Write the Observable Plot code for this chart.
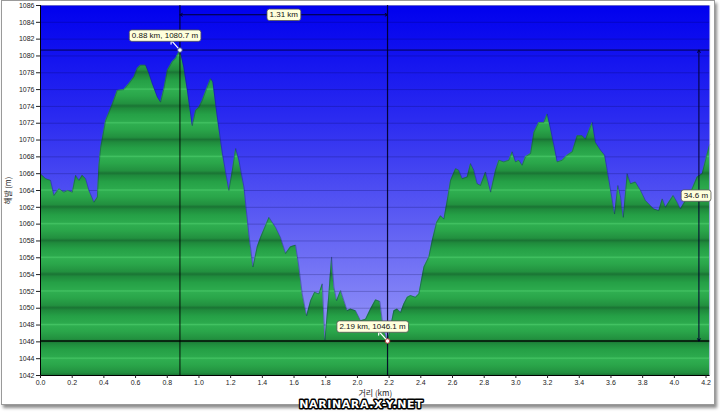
<!DOCTYPE html>
<html><head><meta charset="utf-8">
<script src="https://cdn.jsdelivr.net/npm/d3@7"></script>
<script src="https://cdn.jsdelivr.net/npm/@observablehq/plot@0.6"></script>
<style>
body{margin:0;background:#fff;}
#wrap{position:relative;width:720px;height:412px;}
#border{position:absolute;left:1px;top:0;width:712px;height:403px;border:1px solid #9a9a9a;box-shadow:2px 3px 3px rgba(0,0,0,0.45);background:#fff;}
#chart{position:absolute;left:0;top:0;}
</style></head><body>
<div id="wrap"><div id="border"></div><div id="chart"></div></div>
<script>
// ---- data ----
const distanceKm = [0, 0.033, 0.064, 0.085, 0.117, 0.148, 0.172, 0.201, 0.222, 0.243,
  0.264, 0.285, 0.306, 0.338, 0.359, 0.369, 0.380, 0.411, 0.454, 0.485,
  0.527, 0.558, 0.590, 0.611, 0.632, 0.664, 0.685, 0.706, 0.738, 0.758,
  0.779, 0.801, 0.832, 0.853, 0.880, 0.905, 0.927, 0.958, 0.979, 1.000,
  1.021, 1.053, 1.074, 1.088, 1.116, 1.148, 1.189, 1.211, 1.232, 1.252,
  1.284, 1.315, 1.341, 1.368, 1.389, 1.442, 1.484, 1.515, 1.547, 1.578,
  1.610, 1.631, 1.652, 1.680, 1.705, 1.730, 1.757, 1.779, 1.789, 1.795,
  1.806, 1.820, 1.837, 1.852, 1.869, 1.894, 1.915, 1.936, 1.957, 1.989,
  2.020, 2.052, 2.083, 2.115, 2.142, 2.157, 2.175, 2.190, 2.209, 2.230,
  2.252, 2.273, 2.293, 2.315, 2.336, 2.367, 2.388, 2.420, 2.451, 2.473,
  2.500, 2.525, 2.546, 2.567, 2.588, 2.620, 2.640, 2.662, 2.693, 2.714,
  2.735, 2.756, 2.777, 2.809, 2.841, 2.872, 2.893, 2.924, 2.956, 2.977,
  2.998, 3.019, 3.040, 3.061, 3.093, 3.114, 3.145, 3.177, 3.198, 3.219,
  3.239, 3.261, 3.293, 3.324, 3.356, 3.387, 3.419, 3.440, 3.482, 3.503,
  3.534, 3.560, 3.577, 3.598, 3.623, 3.644, 3.661, 3.678, 3.703, 3.724,
  3.755, 3.787, 3.818, 3.839, 3.871, 3.902, 3.924, 3.945, 3.965, 3.993,
  4.018, 4.039, 4.071, 4.113, 4.144, 4.176, 4.208, 4.224];
const elevationM = [1066.0, 1065.4, 1065.2, 1063.4, 1064.2, 1063.8, 1064.0, 1063.8, 1065.8, 1065.2,
  1065.8, 1065.4, 1064.0, 1062.6, 1063.2, 1067.0, 1069.1, 1072.3, 1074.3, 1075.9,
  1076.0, 1076.7, 1077.5, 1078.5, 1078.9, 1078.9, 1077.9, 1076.7, 1075.1, 1074.5,
  1076.1, 1078.3, 1079.3, 1079.7, 1080.7, 1078.6, 1075.9, 1071.7, 1073.5, 1073.9,
  1074.7, 1076.3, 1077.3, 1076.9, 1072.7, 1068.4, 1064.0, 1066.4, 1069.0, 1067.6,
  1064.4, 1058.8, 1054.9, 1057.3, 1058.4, 1060.8, 1059.6, 1058.4, 1056.5, 1057.3,
  1057.5, 1054.9, 1051.7, 1049.1, 1050.9, 1051.9, 1051.7, 1052.9, 1048.5, 1046.2,
  1048.5, 1051.7, 1056.1, 1052.5, 1050.9, 1052.1, 1050.9, 1049.7, 1049.9, 1049.7,
  1048.5, 1048.7, 1049.9, 1051.0, 1050.8, 1048.5, 1047.0, 1046.1, 1047.7, 1049.7,
  1049.9, 1049.5, 1050.5, 1051.3, 1051.5, 1051.3, 1051.7, 1054.9, 1056.1, 1058.1,
  1060.2, 1061.0, 1060.6, 1062.8, 1065.2, 1066.6, 1066.4, 1065.4, 1065.6, 1067.2,
  1066.4, 1064.8, 1064.6, 1066.2, 1063.8, 1066.4, 1067.6, 1067.4, 1067.6, 1068.6,
  1067.4, 1067.6, 1067.0, 1068.0, 1068.4, 1070.9, 1072.1, 1072.1, 1073.1, 1071.3,
  1069.5, 1067.4, 1067.6, 1068.2, 1068.6, 1070.5, 1070.5, 1070.1, 1072.1, 1069.7,
  1068.8, 1068.2, 1066.4, 1064.0, 1061.2, 1064.6, 1063.2, 1060.8, 1066.0, 1064.8,
  1065.0, 1064.0, 1062.8, 1062.4, 1061.8, 1061.6, 1063.0, 1062.0, 1062.6, 1063.4,
  1062.6, 1061.8, 1062.8, 1064.2, 1065.6, 1066.0, 1068.4, 1069.5];
const xTicks = [0, 0.2, 0.4, 0.6, 0.8, 1.0, 1.2, 1.4, 1.6, 1.8, 2.0, 2.2, 2.4, 2.6, 2.8, 3.0, 3.2, 3.4, 3.6, 3.8, 4.0, 4.2];
const yTicks = [1042, 1044, 1046, 1048, 1050, 1052, 1054, 1056, 1058, 1060, 1062, 1064, 1066, 1068, 1070, 1072, 1074, 1076, 1078, 1080, 1082, 1084, 1086];
const xDomain = [0, 4.225];
const yDomain = [1042, 1086];
const markers = [{km: 0.88, m: 1080.7}, {km: 2.19, m: 1046.1}];
const distanceLabel = "1.31 km";
const heightLabel = "34.6 m";
const distanceArrowY = 1084.9;   // elevation where the horizontal dimension arrow runs
const heightArrowX = 4.155;      // distance where the vertical dimension arrow runs
const xLabel = "거리 (km)";
const yLabel = "해발 (m)";
const watermark = "NARINARA.X-Y.NET";

const profile = distanceKm.map((k, i) => ({km: k, m: elevationM[i]}));
const [peak, low] = markers;
const midKm = (peak.km + low.km) / 2;
const midM = (peak.m + low.m) / 2;
const markerText = d => `${d.km} km, ${d.m} m`;
const boxedLabels = new Set([...markers.map(markerText), distanceLabel, heightLabel]);

const plot = Plot.plot({
  width: 720, height: 412,
  marginLeft: 40, marginRight: 10.5, marginTop: 5, marginBottom: 37,
  style: {background: "transparent", fontFamily: "'Liberation Sans', Arial, sans-serif", fontSize: "7px", color: "#222", overflow: "visible"},
  x: {domain: xDomain},
  y: {domain: yDomain},
  marks: [
    Plot.frame({fill: "url(#bgGrad)", stroke: "none"}),
    Plot.ruleY(yTicks, {stroke: "#000040", strokeOpacity: 0.22}),
    Plot.areaY(profile, {x: "km", y1: yDomain[0], y2: "m", fill: "url(#greenBand)"}),
    Plot.line(profile, {x: "km", y: "m", stroke: "#102060", strokeOpacity: 0.45, strokeWidth: 0.8}),
    Plot.ruleY([peak.m], {stroke: "#000030", strokeOpacity: 0.85}),
    Plot.ruleY([low.m], {stroke: "#000", strokeWidth: 1.3, strokeOpacity: 0.9}),
    Plot.ruleX([peak.km], {stroke: "#000", strokeOpacity: 0.9}),
    Plot.ruleX([low.km], {stroke: "#000025", strokeWidth: 1.2, strokeOpacity: 0.9}),
    Plot.arrow([peak.km, low.km], {x1: midKm, x2: d => d, y1: distanceArrowY, y2: distanceArrowY, stroke: "#000030", strokeWidth: 1, headLength: 4}),
    Plot.arrow([peak.m, low.m], {x1: heightArrowX, x2: heightArrowX, y1: midM, y2: d => d, stroke: "#000030", strokeWidth: 1, headLength: 4}),
    Plot.ruleX([xDomain[0]], {stroke: "#000"}),
    Plot.ruleY([yDomain[0]], {stroke: "#000"}),
    Plot.ruleX([xDomain[1]], {stroke: "#e6e6e6"}),
    Plot.vector(markers, {x: "km", y: "m", rotate: -42, length: 13, anchor: "start", stroke: "#fff", strokeWidth: 1.2}),
    Plot.dot([peak], {x: "km", y: "m", r: 2.3, fill: "#fff", stroke: "#4050a0", strokeWidth: 1}),
    Plot.dot([low], {x: "km", y: "m", r: 2.3, fill: "#fff", stroke: "#c04040", strokeWidth: 1}),
    Plot.text(markers, {x: "km", y: "m", text: markerText, dx: -15, dy: -14.5, fontSize: 8, fill: "#111", textAnchor: "middle", lineAnchor: "middle"}),
    Plot.text([distanceLabel], {x: midKm, y: distanceArrowY, text: d => d, fontSize: 8, fill: "#111", textAnchor: "middle", lineAnchor: "middle"}),
    Plot.text([heightLabel], {x: heightArrowX, y: midM, text: d => d, dx: -3, fontSize: 8, fill: "#111", textAnchor: "middle", lineAnchor: "middle"}),
    Plot.axisY(yTicks, {tickSize: 4, tickPadding: 2, label: null, fontSize: 7, tickFormat: d => String(d)}),
    Plot.axisX(xTicks, {tickSize: 3, tickPadding: 2, label: null, fontSize: 7, tickFormat: d => d.toFixed(1)}),
    Plot.text([xLabel], {frameAnchor: "bottom", dy: 18, text: d => d, textAnchor: "middle", lineAnchor: "middle", fontSize: 8, fontFamily: "'Noto Sans CJK KR', sans-serif", fill: "#222"}),
    Plot.text([yLabel], {frameAnchor: "left", dx: -32, rotate: -90, text: d => d, textAnchor: "middle", lineAnchor: "middle", fontSize: 7.5, fontFamily: "'Noto Sans CJK KR', sans-serif", fill: "#222"}),
    Plot.text([watermark], {frameAnchor: "bottom", dy: 29, dx: -14, text: d => d, textAnchor: "middle", lineAnchor: "middle", fontSize: 11, fontWeight: "bold", fontFamily: "'DejaVu Sans', sans-serif", fill: "#fff", stroke: "#000", strokeWidth: 2.8})
  ]
});

document.getElementById("chart").append(plot);

// gradients
const ys = plot.scale("y");
const defs = d3.select(plot).insert("defs", ":first-child");
const bg = defs.append("linearGradient").attr("id", "bgGrad").attr("x1", 0).attr("y1", 0).attr("x2", 0).attr("y2", 1);
[[0, "#0000ee"], [0.3, "#2a2af0"], [0.6, "#6060f3"], [1, "#a8a8fa"]].forEach(([o, c]) => bg.append("stop").attr("offset", o).attr("stop-color", c));
const gb = defs.append("linearGradient").attr("id", "greenBand").attr("gradientUnits", "userSpaceOnUse")
  .attr("x1", 0).attr("x2", 0).attr("y1", ys.apply(yDomain[0])).attr("y2", ys.apply(yDomain[0] + 4)).attr("spreadMethod", "repeat");
[[0, "#1a7434"], [0.07, "#22903f"], [0.3, "#2aa64a"], [0.46, "#2fae50"], [0.5, "#42c262"], [0.54, "#2caa4d"], [0.75, "#25a046"], [0.93, "#1f8a3c"], [1, "#1a7434"]]
  .forEach(([o, c]) => gb.append("stop").attr("offset", o).attr("stop-color", c));

// label boxes and watermark spacing
d3.select(plot).selectAll("text").each(function () {
  const t = this.textContent;
  if (t === watermark) { this.setAttribute("letter-spacing", "0.6"); return; }
  if (!boxedLabels.has(t)) return;
  const b = this.getBBox();
  const padX = 2.5, padY = 1.2;
  const r = document.createElementNS("http://www.w3.org/2000/svg", "rect");
  const tr = this.getAttribute("transform");
  if (tr) r.setAttribute("transform", tr);
  r.setAttribute("x", b.x - padX); r.setAttribute("y", b.y - padY);
  r.setAttribute("width", b.width + 2 * padX); r.setAttribute("height", b.height + 2 * padY);
  r.setAttribute("rx", 2.5); r.setAttribute("fill", "#ffffdc"); r.setAttribute("stroke", "#555"); r.setAttribute("stroke-width", 0.8);
  this.parentNode.insertBefore(r, this);
});
</script>
</body></html>
